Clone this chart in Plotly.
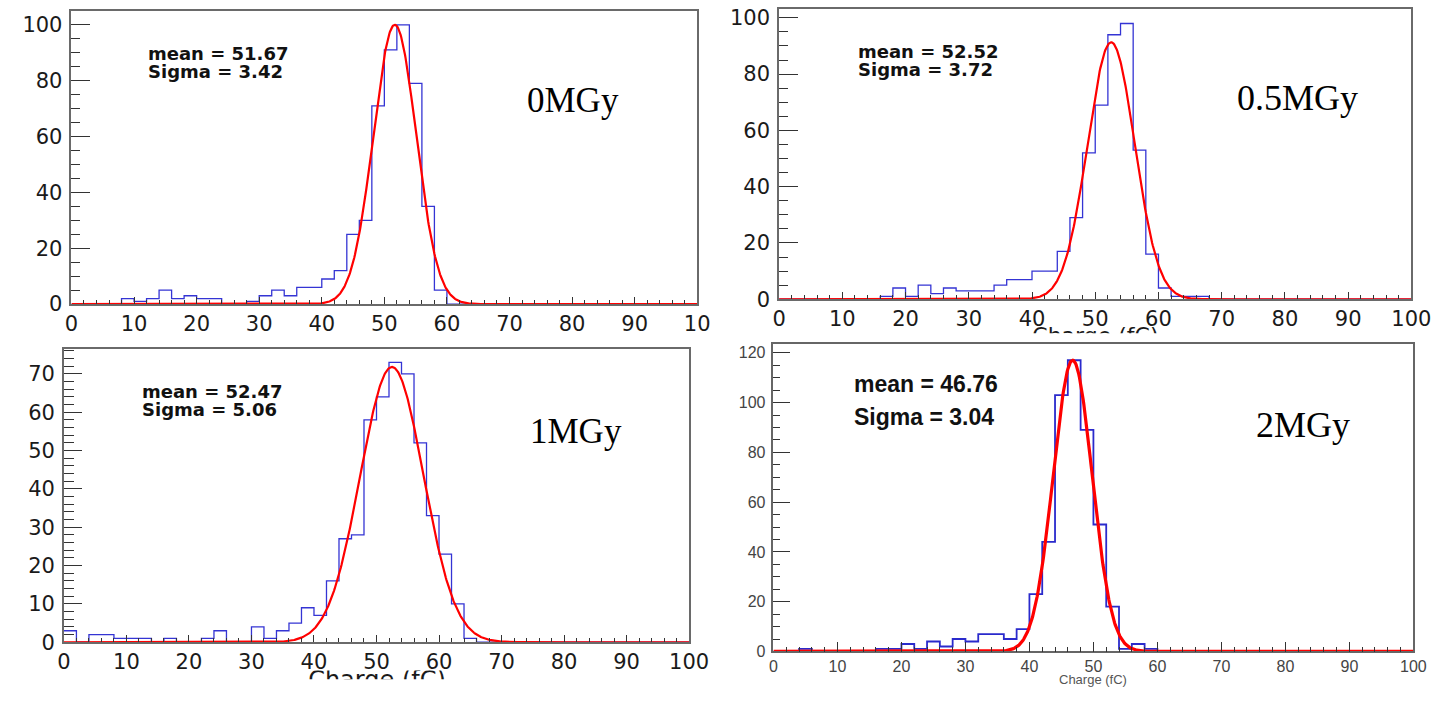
import numpy as np
import plotly.graph_objects as go

W, H = 1452, 701

# ---------------- data ----------------
bin_edges = list(range(0, 102, 2))  # 50 bins of 2 fC from 0 to 100

counts_0MGy = [0, 0, 0, 0, 2, 1, 2, 5, 2, 3,
               2, 2, 0, 0, 1, 3, 5, 3, 6, 6,
               9, 12, 25, 30, 71, 91, 100, 79, 35, 5,
               0, 0, 0, 0, 0, 0, 0, 0, 0, 0,
               0, 0, 0, 0, 0, 0, 0, 0, 0, 0]
counts_05MGy = [0, 0, 0, 0, 0, 0, 0, 0, 1, 4,
                1, 5, 2, 4, 3, 3, 3, 5, 7, 7,
                10, 10, 17, 29, 52, 69, 94, 98, 53, 16,
                4, 1, 1, 1, 0, 0, 0, 0, 0, 0,
                0, 0, 0, 0, 0, 0, 0, 0, 0, 0]
counts_1MGy = [3, 0, 2, 2, 1, 1, 1, 0, 1, 0,
               0, 1, 3, 0, 0, 4, 1, 3, 5, 9,
               7, 16, 27, 28, 58, 64, 73, 70, 52, 33,
               23, 10, 1, 0, 0, 0, 0, 0, 0, 0,
               0, 0, 0, 0, 0, 0, 0, 0, 0, 0]
counts_2MGy = [0, 0, 1, 0, 0, 0, 0, 0, 1, 1,
               3, 1, 4, 2, 5, 4, 7, 7, 5, 9,
               23, 44, 103, 117, 89, 51, 18, 1, 3, 1,
               0, 0, 0, 0, 0, 0, 0, 0, 0, 0,
               0, 0, 0, 0, 0, 0, 0, 0, 0, 0]

dose_labels = ["0MGy", "0.5MGy", "1MGy", "2MGy"]
fit_mean = [51.67, 52.52, 52.47, 46.76]
fit_sigma = [3.42, 3.72, 5.06, 3.04]
fit_amp = [100, 91.3, 71.8, 117]

x_tickvals = [0, 10, 20, 30, 40, 50, 60, 70, 80, 90, 100]
x_ticktext_first = ["0", "10", "20", "30", "40", "50", "60", "70", "80", "90", "10"]
x_ticktext = ["0", "10", "20", "30", "40", "50", "60", "70", "80", "90", "100"]
x_title = "Charge (fC)"

all_counts = [counts_0MGy, counts_05MGy, counts_1MGy, counts_2MGy]

# ---------------- layout geometry (pixels of the 1452x701 picture) ----------------
panels = [
    dict(x0=65.7, x1=703.3, yb=308.3, yt=9.0, ymax=105.0, ydt=20, ymdt=5, ylen=19, ymlen=9,
         xlen=7, xmlen=4, ticktext=x_ticktext_first, style="root",
         stat_x=142, stat_y=(52.7, 71.0), lab_x=577, lab_y=100, lab_size=35),
    dict(x0=786.7, x1=1431.0, yb=303.3, yt=6.7, ymax=103.3, ydt=20, ymdt=5, ylen=19, ymlen=9,
         xlen=7, xmlen=4, ticktext=x_ticktext, style="root",
         stat_x=865, stat_y=(50.7, 69.0), lab_x=1314.5, lab_y=98, lab_size=36),
    dict(x0=58.0, x1=695.0, yb=653.3, yt=354.0, ymax=76.5, ydt=10, ymdt=2, ylen=18, ymlen=10,
         xlen=7, xmlen=4, ticktext=x_ticktext, style="root",
         stat_x=136, stat_y=(397.3, 416.0), lab_x=580, lab_y=438, lab_size=35),
    dict(x0=781.0, x1=1433.0, yb=662.7, yt=349.3, ymax=123.4, ydt=20, ymdt=5, ylen=17, ymlen=7,
         xlen=10, xmlen=5, ticktext=x_ticktext, style="scan",
         stat_x=861, stat_y=(389.5, 423.0), lab_x=1321, lab_y=432, lab_size=36),
]


def px_x(px):
    return px / W


def px_y(py):
    return 1 - py / H


fig = go.Figure()
xfit = np.linspace(0, 100, 1001)

for i, p in enumerate(panels):
    n = i + 1
    xa = "x" if n == 1 else f"x{n}"
    ya = "y" if n == 1 else f"y{n}"
    counts = all_counts[i]
    scan = p["style"] == "scan"

    # histogram outline
    fig.add_trace(go.Scatter(
        x=bin_edges, y=counts + [counts[-1]], mode="lines",
        line=dict(shape="hv", color="#3434d4" if not scan else "#2a2acc",
                  width=1.3 if not scan else 1.8),
        xaxis=xa, yaxis=ya, showlegend=False, hoverinfo="skip"))
    # gaussian fit
    yfit = fit_amp[i] * np.exp(-0.5 * ((xfit - fit_mean[i]) / fit_sigma[i]) ** 2)
    fig.add_trace(go.Scatter(
        x=xfit, y=yfit, mode="lines",
        line=dict(color="#ff0000", width=2.2 if not scan else 3.2),
        xaxis=xa, yaxis=ya, showlegend=False, hoverinfo="skip"))

    if scan:
        tfont = dict(family="Liberation Sans Narrow, Liberation Sans, Arial", size=16, color="#444")
        tcol = "#333"
        lcol = "#666"
    else:
        tfont = dict(family="DejaVu Sans, Arial", size=21, color="#1a1a1a")
        tcol = "#333"
        lcol = "#6a6a6a"

    xkey = "xaxis" if n == 1 else f"xaxis{n}"
    ykey = "yaxis" if n == 1 else f"yaxis{n}"
    fig.update_layout(**{
        xkey: dict(domain=[px_x(p["x0"]), px_x(p["x1"])], range=[0, 100], anchor=ya,
                   tickmode="array", tickvals=x_tickvals, ticktext=p["ticktext"],
                   ticks="inside", ticklen=p["xlen"], tickwidth=1.2, tickcolor=tcol,
                   minor=dict(ticks="inside", ticklen=p["xmlen"], tick0=0, dtick=2,
                              tickwidth=1.2, tickcolor=tcol, showgrid=False),
                   showline=True, mirror=True, linecolor=lcol, linewidth=1.6,
                   showgrid=False, zeroline=False, tickfont=tfont, ticklabelstandoff=0),
        ykey: dict(domain=[px_y(p["yb"]), px_y(p["yt"])], range=[0, p["ymax"]], anchor=xa,
                   tick0=0, dtick=p["ydt"],
                   ticks="inside", ticklen=p["ylen"], tickwidth=1.2, tickcolor=tcol,
                   minor=dict(ticks="inside", ticklen=p["ymlen"], tick0=0, dtick=p["ymdt"],
                              tickwidth=1.2, tickcolor=tcol, showgrid=False),
                   showline=True, mirror=True, linecolor=lcol, linewidth=1.6,
                   showgrid=False, zeroline=False, tickfont=tfont, ticklabelstandoff=3),
    })

annotations = []
for i, p in enumerate(panels):
    scan = p["style"] == "scan"
    if scan:
        sfont = dict(family="Liberation Sans Narrow, Liberation Sans, Arial", size=23, color="#111")
    else:
        sfont = dict(family="DejaVu Sans, Arial", size=18, color="#111")
    stats = [f"<b>mean = {fit_mean[i]:.2f}</b>", f"<b>Sigma = {fit_sigma[i]:.2f}</b>"]
    for txt, yy in zip(stats, p["stat_y"]):
        annotations.append(dict(text=txt, x=px_x(p["stat_x"]), y=px_y(yy), xref="paper", yref="paper",
                                xanchor="left", yanchor="middle", showarrow=False, font=sfont))
    annotations.append(dict(text=dose_labels[i], x=px_x(p["lab_x"]), y=px_y(p["lab_y"]),
                            xref="paper", yref="paper", xanchor="center", yanchor="middle",
                            showarrow=False,
                            font=dict(family="Liberation Serif, Times New Roman", size=p["lab_size"],
                                      color="#000")))

# small axis title of the 2MGy panel
annotations.append(dict(text=x_title, x=px_x(1107), y=px_y(691), xref="paper", yref="paper",
                        xanchor="center", yanchor="middle", showarrow=False,
                        font=dict(family="Liberation Sans Narrow, Liberation Sans, Arial", size=13,
                                  color="#555")))

# partially cut axis titles (0.5MGy and 1MGy panels), clipped to a thin band
cut_titles = [
    dict(n=5, cx=1109, cy=342, top=330, bottom=338, size=22),
    dict(n=6, cx=377, cy=694, top=682, bottom=691, size=24),
]
for c in cut_titles:
    n = c["n"]
    fig.add_trace(go.Scatter(
        x=[c["cx"]], y=[H - c["cy"]], mode="text", text=[x_title], textposition="middle center",
        textfont=dict(family="DejaVu Sans, Arial", size=c["size"], color="#1a1a1a"),
        cliponaxis=True, xaxis=f"x{n}", yaxis=f"y{n}", showlegend=False, hoverinfo="skip"))
    fig.update_layout(**{
        f"xaxis{n}": dict(domain=[0, 1], range=[0, W], visible=False, anchor=f"y{n}", fixedrange=True),
        f"yaxis{n}": dict(domain=[px_y(c["bottom"]), px_y(c["top"])],
                          range=[H - c["bottom"], H - c["top"]], visible=False,
                          anchor=f"x{n}", fixedrange=True),
    })

fig.update_layout(width=W, height=H, margin=dict(l=0, r=0, t=0, b=0),
                  paper_bgcolor="white", plot_bgcolor="white", annotations=annotations,
                  showlegend=False)

fig.write_html("out.html")
